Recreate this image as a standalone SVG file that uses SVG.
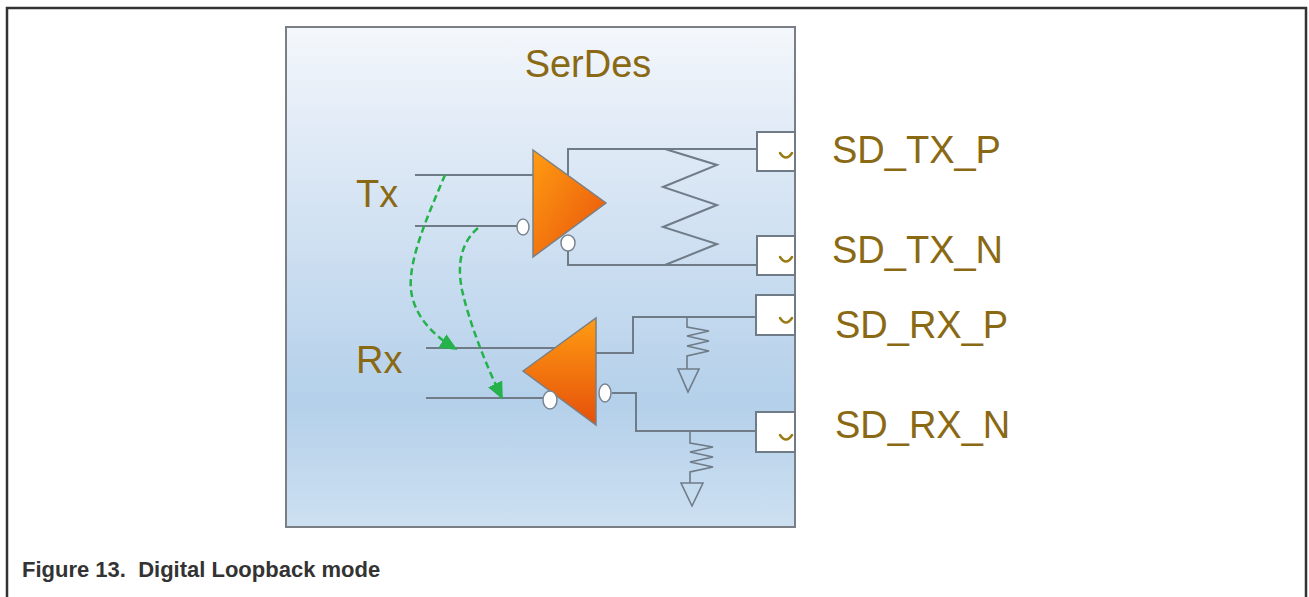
<svg xmlns="http://www.w3.org/2000/svg" width="1309" height="597" viewBox="0 0 1309 597">
<style>
.lbl{font-family:"Liberation Sans",Arial,sans-serif;font-size:38px;fill:#8a6914}
.wire{fill:none;stroke:#6f7c88;stroke-width:2}
.pad{fill:#ffffff;stroke:#6f7c88;stroke-width:2}
.tick{fill:none;stroke:#9a7a14;stroke-width:2.5;stroke-linecap:round}
.bub{fill:#ffffff;stroke:#7a8590;stroke-width:1.5}
.gnd{fill:none;stroke:#6f7c88;stroke-width:1.6}
.loop{fill:none;stroke:#26b24b;stroke-width:2.5;stroke-dasharray:7 4}
.cap{font-family:"Liberation Sans",Arial,sans-serif;font-size:22px;font-weight:bold;fill:#333333}
</style>
<defs>
<linearGradient id="bg" x1="0" y1="0" x2="0" y2="1">
<stop offset="0" stop-color="#f4f7fb"/>
<stop offset="0.15" stop-color="#e6eef8"/>
<stop offset="0.75" stop-color="#b4d0ea"/>
<stop offset="1" stop-color="#cde0f1"/>
</linearGradient>
<linearGradient id="amp" x1="0" y1="0" x2="1" y2="1">
<stop offset="0" stop-color="#ff9c12"/>
<stop offset="1" stop-color="#e8520b"/>
</linearGradient>
<linearGradient id="amp2" x1="0" y1="0" x2="0" y2="1">
<stop offset="0" stop-color="#ff9c12"/>
<stop offset="1" stop-color="#e54f0a"/>
</linearGradient>
<marker id="ah" viewBox="0 0 10 10" refX="9" refY="5" markerWidth="7" markerHeight="7" orient="auto" markerUnits="strokeWidth">
<path d="M0,0.5 L10,5 L0,9.5 z" fill="#26b24b"/>
</marker>
</defs>

<rect width="1309" height="597" fill="#ffffff"/>
<path d="M7,597 L7,8 L1306,8 L1306,597" fill="none" stroke="#333333" stroke-width="2.5"/>

<g id="serdes">
<rect x="286" y="27" width="509" height="500" fill="url(#bg)" stroke="#7a7f86" stroke-width="2"/>
<text class="lbl" x="588" y="77" text-anchor="middle" font-size="39">SerDes</text>
<text class="lbl" x="356" y="207">Tx</text>
<text class="lbl" x="356" y="373">Rx</text>
</g>

<g id="connectors">
<path class="wire" d="M415,175 L533,175"/>
<path class="wire" d="M415,226 L517,226"/>
<path class="wire" d="M568,175 L568,149 L757,149"/>
<path class="wire" d="M568,251 L568,265 L757,265"/>
<path class="wire" d="M665,149 L717,165 L663,187 L717,205 L663,227 L717,244 L665,265"/>
<path class="wire" d="M426,348 L558,348"/>
<path class="wire" d="M426,398 L543,398"/>
<path class="wire" d="M596,353 L633,353 L633,317 L756,317"/>
<path class="wire" d="M612,393 L636,393 L636,431 L756,431"/>
<path class="gnd" d="M687,317 L687,327 L709,331 L687,336 L709,341 L687,346 L709,351 L687,356 L687,369"/>
<path class="gnd" d="M678,369 L699,369 L688,392 z"/>
<path class="gnd" d="M690,431 L690,443 L713,447 L690,452 L713,457 L690,462 L713,467 L690,472 L690,483"/>
<path class="gnd" d="M681,483 L703,483 L692,506 z"/>
<path class="loop" d="M445,175 C428,215 408,260 411,290 C414,315 432,335 456,349" marker-end="url(#ah)"/>
<path class="loop" d="M478,228 C458,245 458,270 462,290 C470,325 486,365 502,398" marker-end="url(#ah)"/>
</g>

<g id="tx-driver">
<path d="M533,150 L606,203 L533,257 z" fill="url(#amp)" stroke="#7a7f86" stroke-width="1.5"/>
<ellipse class="bub" cx="523" cy="227" rx="6" ry="8"/>
<ellipse class="bub" cx="568" cy="243" rx="7" ry="8"/>
</g>

<g id="rx-receiver">
<path d="M523,371 L596,318 L596,425 z" fill="url(#amp2)" stroke="#7a7f86" stroke-width="1.5"/>
<ellipse class="bub" cx="550" cy="400" rx="7" ry="9"/>
<ellipse class="bub" cx="605" cy="393" rx="6" ry="9"/>
</g>

<g id="pad-tx-p">
<rect class="pad" x="757" y="132" width="38" height="39"/>
<path class="tick" d="M780,153 Q786,162 792,153"/>
<text class="lbl" x="832" y="163">SD_TX_P</text>
</g>
<g id="pad-tx-n">
<rect class="pad" x="757" y="236" width="38" height="39"/>
<path class="tick" d="M780,257 Q786,266 792,257"/>
<text class="lbl" x="832" y="263">SD_TX_N</text>
</g>
<g id="pad-rx-p">
<rect class="pad" x="756" y="295" width="39" height="40"/>
<path class="tick" d="M780,318 Q786,327 792,318"/>
<text class="lbl" x="835" y="338">SD_RX_P</text>
</g>
<g id="pad-rx-n">
<rect class="pad" x="756" y="412" width="39" height="40"/>
<path class="tick" d="M780,435 Q786,444 792,435"/>
<text class="lbl" x="835" y="438">SD_RX_N</text>
</g>

<text class="cap" x="22" y="577" xml:space="preserve">Figure 13.  Digital Loopback mode</text>
</svg>
